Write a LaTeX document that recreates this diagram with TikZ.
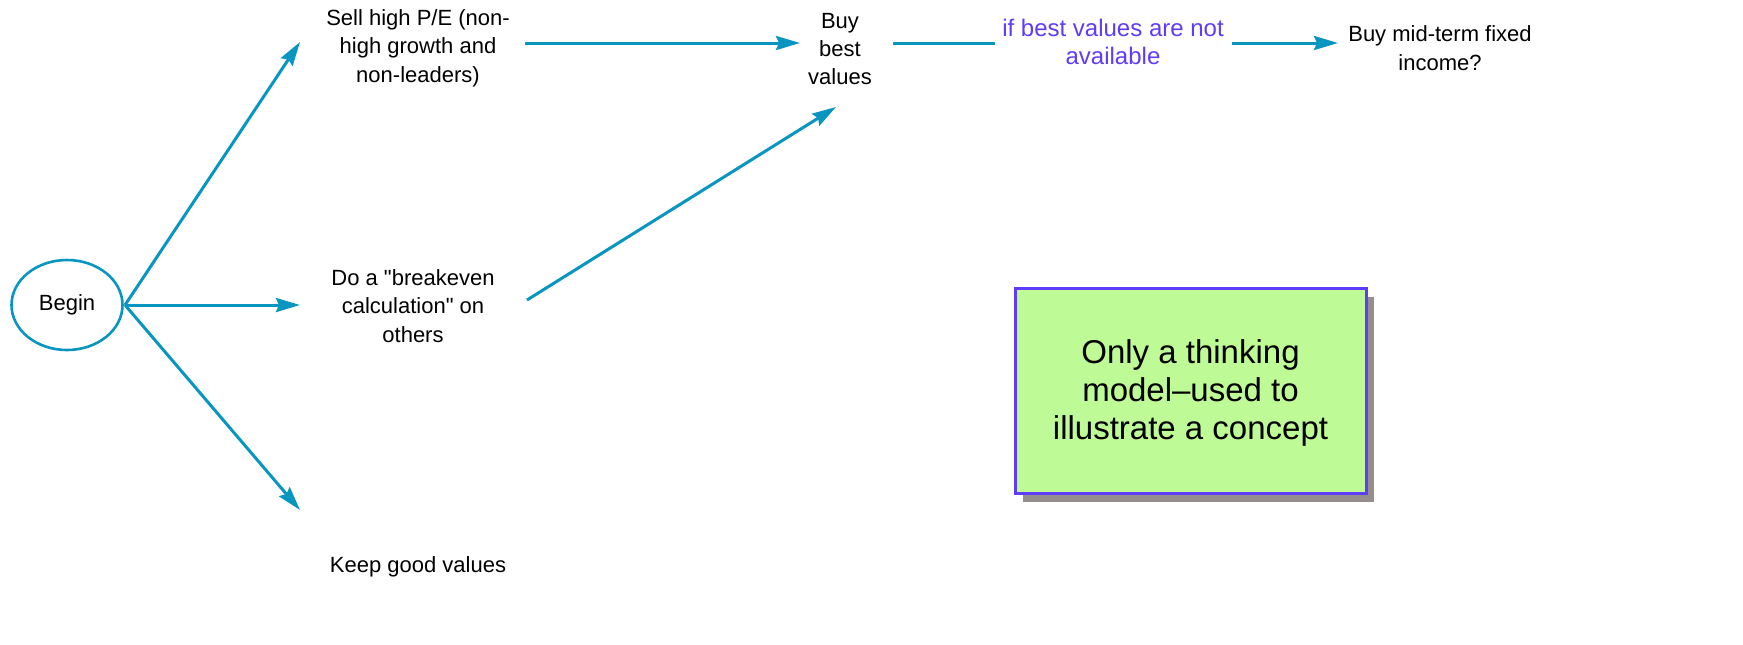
\documentclass[tikz,border=0pt]{standalone}
\usepackage{fontspec}
\setmainfont{Liberation Sans}
\usetikzlibrary{arrows.meta,shapes.geometric}
\definecolor{lineblue}{RGB}{8,150,192}
\definecolor{purp}{RGB}{95,60,250}
\definecolor{boxgreen}{RGB}{190,250,150}
\definecolor{shadowgray}{RGB}{150,142,142}
\tikzset{
  conn/.style={draw=lineblue,line width=1.5pt,-{Stealth[length=12pt,width=7pt,inset=1.5pt]}},
  plainconn/.style={draw=lineblue,line width=1.5pt},
  lbl/.style={align=center,font=\fontsize{11}{14.2}\selectfont,inner sep=0pt},
}
\begin{document}
\begin{tikzpicture}[x=0.5pt,y=-0.5pt]
\useasboundingbox (0,0) rectangle (1743,644);
% begin ellipse
\node[ellipse,draw=lineblue,line width=1.3pt,minimum width=55.5pt,minimum height=45pt,inner sep=0pt,font=\fontsize{11}{12}\selectfont] (begin) at (67,305) {Begin};
\coordinate (bs) at (125,305);
% targets
\coordinate (t1) at (300,42);
\coordinate (t2) at (300,305);
\coordinate (t3) at (300,510);
\node[lbl] (sell) at (418,48) {Sell high P/E (non-\\high growth and\\non-leaders)};
\node[lbl] (brk) at (413,306) {Do a \textquotedbl breakeven\\calculation\textquotedbl{} on\\others};
\node[lbl] (keep) at (418,567) {Keep good values};
\node[lbl] (buy) at (840,49) {Buy\\best\\values};
\node[lbl,text=purp,font=\fontsize{12}{14.2}\selectfont] (ifb) at (1113,42) {if best values are not\\available};
\node[lbl] (mid) at (1440,48) {Buy mid-term fixed\\income?};
\draw[conn] (bs) -- (t1);
\draw[conn] (bs) -- (t2);
\draw[conn] (bs) -- (t3);
\coordinate (s1) at (525,43);
\coordinate (s2) at (800,43);
\draw[conn] (s1) -- (s2);
\coordinate (b1) at (527,300);
\coordinate (b2) at (836,107);
\draw[conn] (b1) -- (b2);
\coordinate (c1) at (893,43);
\coordinate (c2) at (995,43);
\draw[plainconn] (c1) -- (c2);
\coordinate (d1) at (1232,43);
\coordinate (d2) at (1338,43);
\draw[conn] (d1) -- (d2);
% note box
\fill[shadowgray] (1023,297) rectangle (1374,502);
\node[draw=purp,fill=boxgreen,line width=1.5pt,minimum width=175.5pt,minimum height=102.5pt,inner sep=0pt] (note) at (1190.5,390.5) {};
\node[align=center,inner sep=0pt,font=\fontsize{16.5}{18.8}\selectfont] (notetext) at (1190.5,393) {Only a thinking\\model--used to\\illustrate a concept};
\end{tikzpicture}
\end{document}
